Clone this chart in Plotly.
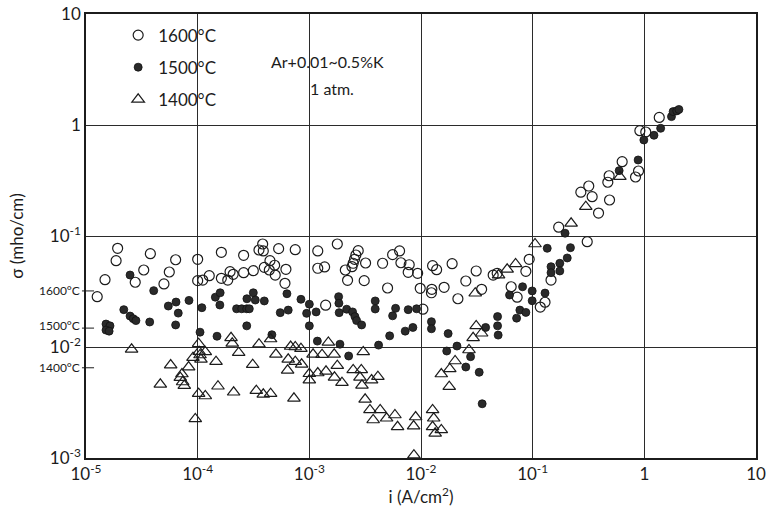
import math
import plotly.graph_objects as go

# Current density i (A/cm^2) and conductivity sigma (mho/cm), Ar + 0.01~0.5%K, 1 atm
i_1600 = [1.92e-5, 1.86e-5, 3.77e-5, 6.35e-5, 1.0e-4, 1.63e-4, 2.58e-4, 3.54e-4, 3.29e-5, 5.57e-5,
          1.48e-5, 2.76e-5, 4.99e-5, 1.26e-5, 1.0e-4, 1.11e-4, 1.27e-4, 1.63e-4, 1.86e-4, 1.95e-4,
          2.08e-4, 2.58e-4, 3.15e-4, 3.82e-4, 3.87e-4, 5.31e-4, 7.48e-4, 1.19e-3, 1.78e-3, 2.74e-3,
          2.61e-3, 2.54e-3, 2.47e-3, 3.19e-3, 4.53e-3, 5.57e-3, 6.43e-3, 6.61e-3, 7.84e-3, 7.68e-3,
          9.33e-3, 3.95e-4, 4.44e-4, 4.89e-4, 4.38e-4, 4.95e-4, 6.17e-4, 6.05e-4, 1.19e-3, 1.37e-3,
          2.10e-3, 2.20e-3, 3.10e-3, 2.41e-3, 5.02e-3, 1.40e-3, 9.84e-3, 1.25e-2, 1.24e-2, 1.27e-2,
          1.38e-2, 1.61e-2, 1.90e-2, 2.14e-2, 2.52e-2, 3.12e-2, 3.49e-2, 4.43e-2, 4.81e-2, 1.04e-2,
          8.69e-2, 9.31e-2, 6.42e-2, 7.26e-2, 0.117, 0.129, 0.146, 0.171, 0.308, 0.270,
          0.318, 0.341, 0.389, 0.488, 0.471, 0.484, 0.633, 0.834, 0.887, 0.912,
          1.03, 1.36]
s_1600 = [0.0775, 0.0599, 0.0693, 0.0611, 0.0617, 0.0713, 0.0670, 0.0748, 0.0494, 0.0474,
          0.0404, 0.0383, 0.0370, 0.0284, 0.0396, 0.0401, 0.0439, 0.0416, 0.0401, 0.0477,
          0.0452, 0.0467, 0.0487, 0.0847, 0.0733, 0.0769, 0.0753, 0.0733, 0.0847, 0.0738,
          0.0674, 0.0617, 0.0568, 0.0571, 0.0568, 0.0679, 0.0733, 0.0574, 0.0551, 0.0471,
          0.0461, 0.0522, 0.0599, 0.0545, 0.0494, 0.0445, 0.0501, 0.0375, 0.0512, 0.0526,
          0.0494, 0.0399, 0.0396, 0.0529, 0.0340, 0.0238, 0.0338, 0.0331, 0.0308, 0.0540,
          0.0497, 0.0345, 0.0563, 0.0272, 0.0393, 0.0484, 0.0331, 0.0445, 0.0461, 0.0219,
          0.0481, 0.0617, 0.0349, 0.0281, 0.0229, 0.0253, 0.0401, 0.120, 0.0889, 0.248,
          0.282, 0.226, 0.161, 0.211, 0.305, 0.349, 0.467, 0.340, 0.385, 0.889,
          0.865, 1.17]

i_1500 = [2.48e-5, 4.04e-5, 2.18e-5, 2.48e-5, 2.65e-5, 2.80e-5, 3.72e-5, 1.51e-5, 1.64e-5, 1.51e-5,
          1.61e-5, 5.46e-5, 6.40e-5, 6.70e-5, 6.35e-5, 8.36e-5, 1.09e-4, 1.05e-4, 1.49e-4, 1.44e-4,
          1.59e-4, 1.58e-4, 2.23e-4, 2.48e-4, 2.75e-4, 2.75e-4, 2.76e-4, 3.15e-4, 3.28e-4, 3.95e-4,
          2.90e-4, 6.30e-4, 8.41e-4, 5.49e-4, 6.47e-4, 4.62e-4, 1.0e-3, 9.46e-4, 1.15e-3, 1.0e-3,
          1.18e-3, 1.83e-3, 1.84e-3, 1.85e-3, 2.16e-3, 2.44e-3, 2.56e-3, 2.65e-3, 2.94e-3, 1.88e-3,
          2.25e-3, 3.89e-3, 3.89e-3, 5.92e-3, 5.57e-3, 7.68e-3, 9.13e-3, 7.22e-3, 8.46e-3, 5.24e-3,
          4.17e-3, 1.24e-2, 1.24e-2, 1.75e-2, 1.70e-2, 2.10e-2, 2.78e-2, 2.52e-2, 3.32e-2, 3.79e-2,
          3.53e-2, 4.85e-2, 4.91e-2, 4.85e-2, 6.21e-2, 8.12e-2, 7.18e-2, 7.68e-2, 8.69e-2, 9.90e-2,
          9.90e-2, 0.129, 0.135, 0.146, 0.146, 0.175, 0.175, 0.204, 0.218, 0.195,
          0.595, 0.880, 0.990, 1.22, 1.40, 1.75, 1.81, 1.95, 2.04]
s_1500 = [0.0445, 0.0322, 0.0217, 0.0190, 0.0180, 0.0173, 0.0168, 0.0161, 0.0155, 0.0142,
          0.0139, 0.0234, 0.0254, 0.0202, 0.0158, 0.0263, 0.0226, 0.0136, 0.0125, 0.0281,
          0.0308, 0.0239, 0.0221, 0.0221, 0.0221, 0.0155, 0.0272, 0.0308, 0.0265, 0.0260,
          0.0221, 0.0302, 0.0269, 0.0204, 0.0215, 0.0129, 0.0243, 0.0201, 0.0207, 0.0155,
          0.0113, 0.0284, 0.0248, 0.0204, 0.0219, 0.0207, 0.0188, 0.0173, 0.0158, 0.0106,
          0.0083, 0.0260, 0.0220, 0.0223, 0.0191, 0.0217, 0.0221, 0.0139, 0.0150, 0.0126,
          0.0104, 0.0169, 0.0146, 0.0132, 0.0092, 0.0102, 0.00818, 0.0066, 0.00592, 0.0150,
          0.00308, 0.0188, 0.0128, 0.0155, 0.0294, 0.0349, 0.0182, 0.0215, 0.0205, 0.0320,
          0.0261, 0.0306, 0.0775, 0.0529, 0.0467, 0.0568, 0.0484, 0.0634, 0.0785, 0.106,
          0.388, 0.484, 0.733, 0.808, 0.934, 1.19, 1.32, 1.34, 1.38]

i_1400 = [2.56e-5, 5.73e-5, 4.63e-5, 7.23e-5, 6.99e-5, 7.34e-5, 7.59e-5, 8.30e-5, 9.08e-5, 1.02e-4,
          1.03e-4, 1.05e-4, 1.07e-4, 1.17e-4, 1.46e-4, 1.02e-4, 1.17e-4, 9.52e-5, 1.52e-4, 2.10e-4,
          1.99e-4, 2.04e-4, 2.33e-4, 3.11e-4, 3.35e-4, 3.54e-4, 4.50e-4, 5.02e-4, 6.80e-4, 7.48e-4,
          8.41e-4, 6.47e-4, 7.48e-4, 8.53e-4, 6.39e-4, 3.87e-4, 4.50e-4, 7.28e-4, 1.08e-3, 1.30e-3,
          1.67e-3, 1.48e-3, 1.78e-3, 1.0e-3, 1.19e-3, 1.41e-3, 1.0e-3, 1.68e-3, 1.96e-3, 3.04e-3,
          2.47e-3, 2.92e-3, 2.84e-3, 2.96e-3, 3.61e-3, 4.11e-3, 3.16e-3, 3.49e-3, 3.73e-3, 4.31e-3,
          4.92e-3, 5.84e-3, 6.17e-3, 8.95e-3, 8.59e-3, 8.64e-3, 1.27e-2, 1.30e-2, 1.27e-2, 1.34e-2,
          1.52e-2, 1.52e-2, 1.81e-2, 2.02e-2, 1.79e-2, 2.69e-2, 2.93e-2, 3.49e-2, 3.12e-2, 3.06e-2,
          4.95e-2, 5.91e-2, 7.03e-2, 0.105, 0.221, 0.299, 0.604]
s_1400 = [0.00953, 0.00688, 0.00461, 0.00571, 0.00529, 0.00484, 0.00448, 0.00660, 0.00801, 0.0107,
          0.00907, 0.00847, 0.00775, 0.00902, 0.00738, 0.00380, 0.00362, 0.00225, 0.00443, 0.00391,
          0.0121, 0.0108, 0.00889, 0.00693, 0.00404, 0.0106, 0.0118, 0.00859, 0.0101, 0.0100,
          0.00966, 0.00775, 0.00738, 0.00698, 0.00617, 0.00375, 0.00380, 0.00345, 0.00859, 0.00853,
          0.00859, 0.0110, 0.00679, 0.00574, 0.00583, 0.00604, 0.00504, 0.00533, 0.00477, 0.00902,
          0.00621, 0.00621, 0.00533, 0.00452, 0.00504, 0.00540, 0.00338, 0.00271, 0.00220, 0.00271,
          0.00228, 0.00244, 0.00191, 0.00234, 0.00194, 0.00106, 0.00271, 0.00228, 0.00191, 0.00167,
          0.00179, 0.00571, 0.00634, 0.00748, 0.00439, 0.00940, 0.0121, 0.0133, 0.0155, 0.0305,
          0.0445, 0.0501, 0.0560, 0.0847, 0.130, 0.184, 0.342]

# Reference conductivity levels marked on the sigma axis
temp_labels = ["1600°C", "1500°C", "1400°C"]
temp_sigma = [0.032, 0.0148, 0.0065]
temp_label_lift = [0, 3, 0]  # keeps 1500°C clear of the 10^-2 tick label

x_tickvals = [1e-5, 1e-4, 1e-3, 1e-2, 1e-1, 1, 10]
x_ticktext = ["10<sup>-5</sup>", "10<sup>-4</sup>", "10<sup>-3</sup>", "10<sup>-2</sup>",
              "10<sup>-1</sup>", "1", "10"]
y_tickvals = [1e-3, 1e-2, 1e-1, 1, 10]
y_ticktext = ["10<sup>-3</sup>", "10<sup>-2</sup>", "10<sup>-1</sup>", "1", "10"]

FONT = "Lato"
INK = "#1c1c1c"

fig = go.Figure()
fig.add_trace(go.Scatter(
    x=i_1600, y=s_1600, mode="markers", name="1600°C", legendgroup="a",
    marker=dict(symbol="circle-open", size=10, color=INK, line=dict(width=1.2, color=INK))))
fig.add_trace(go.Scatter(
    x=i_1500, y=s_1500, mode="markers", name="1500°C", legendgroup="b",
    marker=dict(symbol="circle", size=8, color="#2a2a2a", line=dict(width=0.8, color="#111"))))
fig.add_trace(go.Scatter(
    x=i_1400, y=s_1400, mode="markers", name="1400°C", legendgroup="c",
    marker=dict(symbol="triangle-up-open", size=11, color=INK, line=dict(width=1.2, color=INK))))

axis_common = dict(
    type="log", showline=True, linecolor=INK, linewidth=1.5, mirror=True, automargin=False,
    showgrid=True, gridcolor="#2b2b2b", gridwidth=1.3, zeroline=False, ticks="",
    tickfont=dict(family=FONT, size=17, color=INK),
)

# Temperature labels beside the sigma axis, each with a short dash at the axis
temp_annotations = []
temp_shapes = []
for label, sig, lift in zip(temp_labels, temp_sigma, temp_label_lift):
    temp_annotations.append(dict(
        text=label, x=0, y=math.log10(sig), xref="paper", yref="y", xanchor="right",
        yanchor="middle", xshift=-4, yshift=lift, showarrow=False,
        font=dict(family=FONT, size=12, color=INK)))
    temp_shapes.append(dict(
        type="line", xref="paper", yref="y", x0=-0.006, x1=0.012, y0=sig, y1=sig,
        line=dict(color=INK, width=1)))

fig.update_layout(
    width=770, height=514,
    margin=dict(l=86, r=14, t=14, b=56),
    paper_bgcolor="white", plot_bgcolor="white",
    font=dict(family=FONT, color=INK),
    xaxis=dict(axis_common, range=[-5, 1], tickvals=x_tickvals, ticktext=x_ticktext,
               title=dict(text="i (A/cm<sup>2</sup>)", font=dict(family=FONT, size=17, color=INK),
                          standoff=4)),
    yaxis=dict(axis_common, range=[-3, 1], tickvals=y_tickvals, ticktext=y_ticktext,
               title=dict(text="σ (mho/cm)", font=dict(family=FONT, size=17, color=INK),
                          standoff=22)),
    showlegend=True,
    legend=dict(x=0.048, y=0.992, xanchor="left", yanchor="top", bgcolor="rgba(0,0,0,0)",
                font=dict(family=FONT, size=17, color=INK), traceorder="grouped",
                tracegroupgap=7, itemclick=False),
    shapes=temp_shapes,
    annotations=[
        dict(text="Ar+0.01~0.5%K", x=0.36, y=0.892, xref="paper", yref="paper",
             xanchor="center", yanchor="middle", showarrow=False,
             font=dict(family=FONT, size=16, color=INK)),
        dict(text="1 atm.", x=0.367, y=0.833, xref="paper", yref="paper",
             xanchor="center", yanchor="middle", showarrow=False,
             font=dict(family=FONT, size=16, color=INK)),
    ] + temp_annotations,
)

fig.write_html("out.html")
